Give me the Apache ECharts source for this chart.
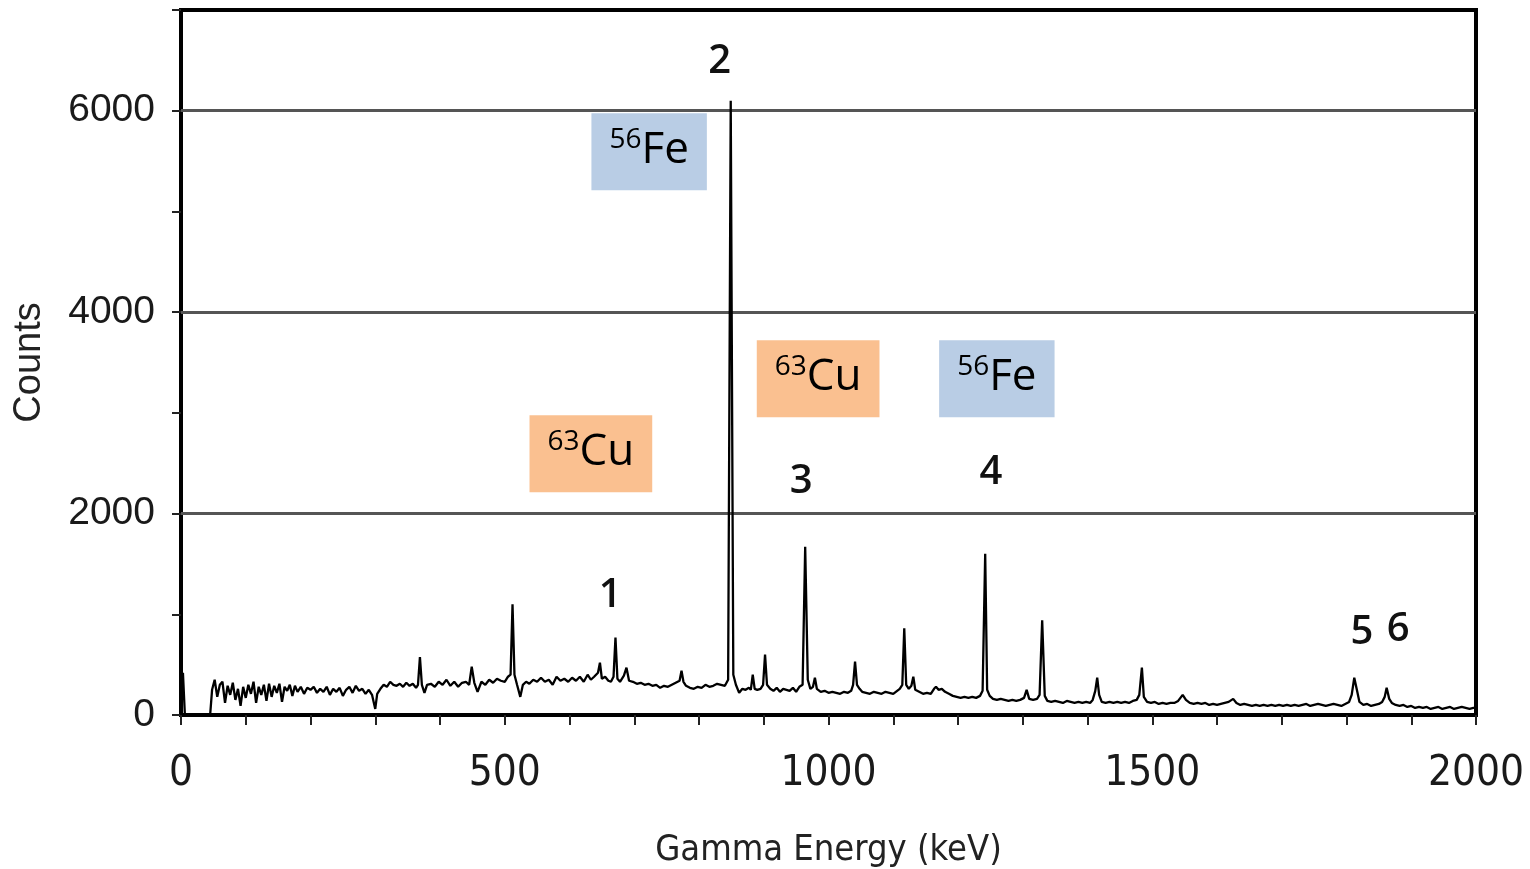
<!DOCTYPE html>
<html>
<head>
<meta charset="utf-8">
<title>Gamma spectrum</title>
<script src="https://cdn.jsdelivr.net/npm/echarts@6/dist/echarts.min.js"></script>
<style>
  html, body { margin: 0; padding: 0; background: #fff; }
  #main { width: 1530px; height: 869px; }
</style>
</head>
<body>
<div id="main"></div>
<script>
  // spectrum: [energy keV, counts]
  const spectrum = [
    [0, 0], [3, 420], [6, 0], [45, 0], [48, 250], [52, 350], [56, 180], [60, 300], [64, 330], [68, 120],
    [72, 290], [76, 200], [80, 320], [84, 150], [88, 260], [92, 90], [96, 280], [100, 170], [104, 300],
    [108, 210], [112, 330], [116, 120], [120, 280], [124, 200], [128, 300], [132, 140], [136, 310],
    [140, 180], [144, 290], [148, 220], [152, 310], [156, 130], [160, 280], [164, 240], [168, 300],
    [172, 190], [176, 290], [180, 230], [185, 280], [190, 210], [195, 270], [200, 250], [205, 280],
    [210, 220], [215, 260], [220, 230], [225, 280], [230, 200], [235, 260], [240, 230], [245, 270],
    [250, 190], [255, 250], [260, 280], [265, 220], [270, 290], [275, 240], [280, 260], [285, 210],
    [290, 250], [295, 200], [300, 60], [303, 210], [308, 260], [313, 300], [318, 280], [323, 330],
    [328, 300], [333, 290], [338, 310], [343, 280], [348, 320], [353, 290], [358, 310], [363, 270],
    [366, 300], [369, 575], [372, 300], [376, 220], [380, 300], [386, 310], [392, 280], [398, 330],
    [404, 300], [410, 350], [416, 290], [422, 330], [428, 280], [434, 320], [440, 330], [445, 300],
    [449, 480], [453, 320], [458, 230], [464, 330], [470, 300], [476, 350], [482, 320], [488, 360],
    [494, 340], [500, 330], [505, 380], [509, 400], [512, 1100], [515, 400], [519, 300], [524, 180],
    [528, 300], [533, 330], [538, 310], [544, 350], [550, 330], [556, 370], [562, 330], [568, 350],
    [574, 300], [580, 380], [586, 340], [592, 360], [598, 330], [604, 370], [610, 340], [616, 380],
    [622, 330], [628, 400], [633, 350], [638, 380], [644, 420], [647, 520], [650, 360], [655, 380],
    [660, 340], [664, 330], [668, 380], [671, 770], [674, 360], [678, 330], [684, 390], [688, 470],
    [692, 340], [698, 330], [704, 310], [710, 320], [716, 300], [722, 310], [728, 290], [734, 300],
    [740, 270], [746, 290], [752, 280], [758, 300], [764, 320], [770, 340], [773, 440], [776, 330],
    [780, 290], [786, 270], [792, 260], [798, 280], [804, 270], [810, 300], [816, 280], [822, 290],
    [828, 310], [834, 300], [840, 290], [845, 350], [849, 6100], [853, 400], [857, 300], [862, 220],
    [867, 260], [872, 250], [877, 270], [880, 250], [883, 400], [886, 260], [890, 250], [895, 260],
    [899, 300], [902, 600], [905, 300], [910, 260], [915, 240], [920, 270], [925, 230], [930, 260],
    [935, 250], [940, 240], [945, 270], [950, 230], [955, 280], [960, 300], [964, 1670], [968, 350],
    [972, 260], [976, 280], [979, 370], [982, 260], [988, 230], [994, 240], [1000, 220], [1006, 230],
    [1012, 220], [1018, 210], [1024, 230], [1030, 220], [1035, 240], [1038, 300], [1041, 530],
    [1044, 300], [1048, 260], [1052, 230], [1058, 220], [1064, 210], [1070, 230], [1076, 220],
    [1082, 210], [1088, 230], [1094, 220], [1100, 210], [1106, 240], [1110, 260], [1114, 300],
    [1117, 860], [1120, 300], [1124, 260], [1128, 290], [1131, 380], [1134, 250], [1140, 230],
    [1146, 210], [1152, 220], [1158, 210], [1163, 260], [1166, 280], [1170, 250], [1175, 260],
    [1180, 230], [1186, 210], [1192, 190], [1198, 180], [1204, 170], [1210, 180], [1216, 170],
    [1222, 180], [1228, 170], [1234, 190], [1238, 240], [1242, 1600], [1245, 250], [1249, 190],
    [1254, 160], [1260, 150], [1266, 160], [1272, 150], [1278, 140], [1284, 150], [1290, 140],
    [1296, 150], [1302, 170], [1306, 250], [1310, 160], [1316, 150], [1322, 160], [1326, 200],
    [1330, 940], [1334, 190], [1338, 140], [1344, 130], [1350, 140], [1356, 130], [1362, 120],
    [1368, 140], [1374, 130], [1380, 120], [1386, 130], [1392, 120], [1398, 130], [1404, 120],
    [1408, 150], [1412, 240], [1415, 370], [1418, 200], [1422, 130], [1428, 120], [1434, 130],
    [1440, 120], [1446, 130], [1452, 120], [1458, 130], [1464, 120], [1470, 140], [1476, 150],
    [1480, 200], [1484, 470], [1487, 180], [1492, 130], [1498, 120], [1504, 130], [1510, 110],
    [1516, 120], [1522, 110], [1528, 120], [1534, 120], [1540, 140], [1547, 200], [1552, 150],
    [1558, 120], [1564, 110], [1570, 120], [1576, 110], [1582, 120], [1588, 100], [1594, 110],
    [1600, 100], [1606, 110], [1612, 120], [1618, 130], [1625, 160], [1630, 120], [1636, 100],
    [1642, 110], [1648, 100], [1654, 90], [1660, 100], [1666, 90], [1672, 100], [1678, 90],
    [1684, 100], [1690, 90], [1696, 100], [1702, 90], [1708, 100], [1714, 90], [1720, 100],
    [1726, 90], [1732, 100], [1738, 110], [1744, 90], [1750, 100], [1756, 110], [1762, 100],
    [1768, 90], [1774, 100], [1780, 110], [1786, 100], [1792, 90], [1798, 110], [1804, 130],
    [1808, 200], [1812, 370], [1816, 250], [1820, 130], [1826, 100], [1832, 110], [1838, 90],
    [1844, 100], [1850, 110], [1855, 130], [1859, 180], [1862, 270], [1866, 160], [1870, 120],
    [1876, 100], [1882, 90], [1888, 100], [1894, 80], [1900, 90], [1906, 70], [1912, 80],
    [1918, 70], [1924, 80], [1930, 60], [1936, 70], [1942, 80], [1948, 60], [1954, 70],
    [1960, 80], [1966, 60], [1972, 70], [1978, 80], [1984, 70], [1990, 60], [1996, 70], [2000, 70]
  ];

  // gridlines drawn in the picture
  const gridValues = [2000, 4000, 6000];

  // peak numbers and where they sit (keV, counts)
  const peakNumbers = ['1', '2', '3', '4', '5', '6'];
  const peakNumberAt = [[663, 1182], [832, 6487], [958, 2315], [1251, 2404], [1824, 815], [1880, 844]];

  // isotope tags
  const isotopeMass = ['56', '63', '63', '56'];
  const isotopeSymbol = ['Fe', 'Cu', 'Cu', 'Fe'];
  const isotopeAt = [[723, 5593], [633, 2593], [984, 3338], [1260, 3338]];

  const tagColors = { Fe: '#b9cde5', Cu: '#fac090' };

  const chartDom = document.getElementById('main');
  const myChart = echarts.init(chartDom);

  const option = {
    animation: false,
    backgroundColor: '#fff',
    grid: {
      left: 181,
      right: 54,
      top: 10,
      bottom: 154,
      outerBoundsMode: 'none',
      containLabel: false,
      show: true,
      borderColor: '#000',
      borderWidth: 4
    },
    xAxis: {
      type: 'value',
      min: 0,
      max: 2000,
      interval: 100,
      name: 'Gamma Energy (keV)',
      nameLocation: 'middle',
      nameGap: 118,
      nameTextStyle: {
        fontFamily: "'Liberation Sans Narrow', 'DejaVu Sans Condensed', sans-serif",
        fontSize: 36,
        color: '#222'
      },
      axisLine: { onZero: false, lineStyle: { color: '#000', width: 4 } },
      axisTick: { show: true, length: 10, lineStyle: { color: '#222', width: 2 } },
      splitLine: { show: false },
      axisLabel: {
        margin: 38,
        fontFamily: "'Liberation Sans Narrow', 'DejaVu Sans Condensed', sans-serif",
        fontSize: 42,
        color: '#1a1a1a',
        formatter: (v) => (v % 500 === 0 ? String(v) : '')
      }
    },
    yAxis: {
      type: 'value',
      min: 0,
      max: 7000,
      interval: 1000,
      name: 'Counts',
      nameLocation: 'middle',
      nameGap: 132,
      nameRotate: 90,
      nameTextStyle: {
        fontFamily: "'Liberation Sans', Arial, sans-serif",
        fontSize: 38,
        color: '#222'
      },
      axisLine: { lineStyle: { color: '#000', width: 4 } },
      axisTick: { show: true, length: 9, lineStyle: { color: '#222', width: 2 } },
      splitLine: { show: false },
      axisLabel: {
        margin: 26,
        fontFamily: "'Liberation Sans', Arial, sans-serif",
        fontSize: 39,
        color: '#1a1a1a',
        formatter: (v) => (v % 2000 === 0 ? String(v) : '')
      }
    },
    series: [
      {
        name: 'Counts',
        type: 'line',
        data: spectrum,
        showSymbol: false,
        symbol: 'none',
        lineStyle: { color: '#000', width: 2.3 },
        z: 3,
        markLine: {
          silent: true,
          symbol: 'none',
          label: { show: false },
          lineStyle: { color: '#555', width: 3, type: 'solid' },
          data: gridValues.map((v) => ({ yAxis: v })),
          z: 1
        }
      },
      {
        name: 'peaks',
        type: 'scatter',
        symbolSize: 1,
        itemStyle: { color: 'transparent', opacity: 1 },
        z: 5,
        data: peakNumbers.map((n, i) => ({ name: n, value: peakNumberAt[i] })),
        label: {
          show: true,
          position: 'inside',
          formatter: (p) => p.name,
          fontFamily: "'Open Sans', sans-serif",
          fontWeight: 600,
          fontSize: 40,
          color: '#111'
        }
      },
      {
        name: 'isotopes',
        type: 'scatter',
        symbolSize: 1,
        itemStyle: { color: 'transparent', opacity: 1 },
        z: 6,
        data: isotopeSymbol.map((s, i) => ({
          name: s,
          value: isotopeAt[i],
          label: { backgroundColor: tagColors[s] }
        })),
        label: {
          show: true,
          position: 'inside',
          padding: [13, 18, 15, 18],
          formatter: (p) => '{sup|' + isotopeMass[p.dataIndex] + '}{big|' + p.name + '}',
          rich: {
            sup: {
              fontFamily: "'Open Sans', sans-serif",
              fontSize: 28,
              color: '#000',
              verticalAlign: 'top',
              lineHeight: 30
            },
            big: {
              fontFamily: "'Open Sans', sans-serif",
              fontSize: 44,
              color: '#000',
              lineHeight: 49
            }
          }
        }
      }
    ]
  };

  option && myChart.setOption(option);
</script>
</body>
</html>
